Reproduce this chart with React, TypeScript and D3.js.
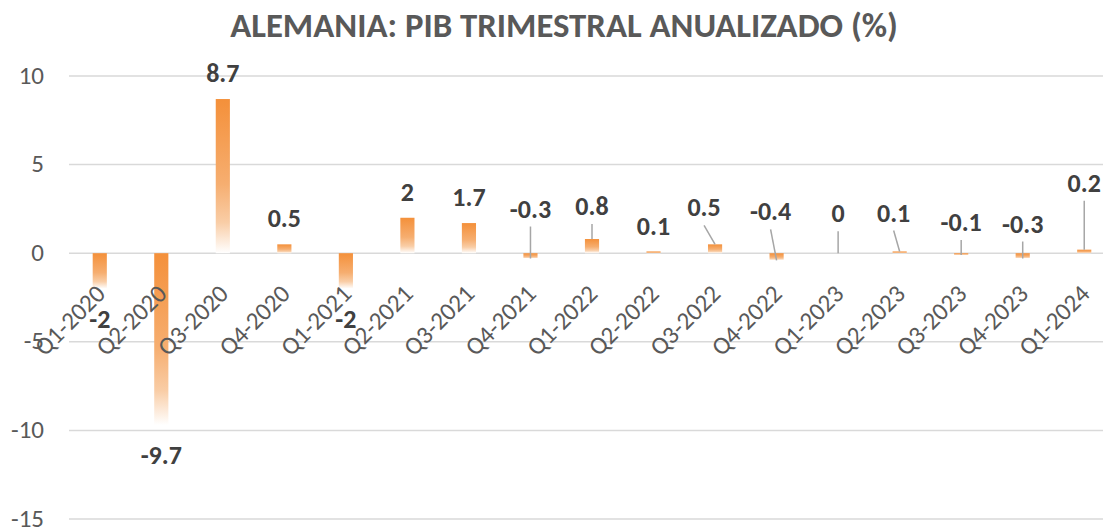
import React from "react";
import * as d3 from "d3";

const categories = [
  "Q1-2020", "Q2-2020", "Q3-2020", "Q4-2020", "Q1-2021", "Q2-2021", "Q3-2021", "Q4-2021",
  "Q1-2022", "Q2-2022", "Q3-2022", "Q4-2022", "Q1-2023", "Q2-2023", "Q3-2023", "Q4-2023", "Q1-2024",
];
const values = [-2, -9.7, 8.7, 0.5, -2, 2, 1.7, -0.3, 0.8, 0.1, 0.5, -0.4, 0, 0.1, -0.1, -0.3, 0.2];
const yTicks = [-15, -10, -5, 0, 5, 10];
const title = "ALEMANIA: PIB TRIMESTRAL ANUALIZADO (%)";

// manual label placements (px): [dx, dy from bar end], null = default outside end
const labelPlacement: ([number, number] | null)[] = [
  null, null, null, null, null, null, null,
  [0, -50], [0, -33], null, [-11, -37], [-6, -49], [0, -40], [-6, -39], [0, -33], [0, -35], [0, -67],
];

const W = 1103;
const H = 529;
const FONT = "Carlito, Calibri, 'Open Sans', sans-serif";

export default function App() {
  const x = d3.scaleBand<string>().domain(categories).range([69, 1115]).paddingInner(0.77).paddingOuter(0.385);
  const y = d3.scaleLinear().domain([-15, 10]).range([519, 76]);
  const bw = x.bandwidth();
  const cx = (c: string) => (x(c) as number) + bw / 2;

  return (
    <svg width={W} height={H} style={{ position: "absolute", left: 0, top: 0, background: "#fff" }}>
      <defs>
        <linearGradient id="barGrad" x1="0" y1="0" x2="0" y2="1">
          <stop offset="0" stopColor="#F4903A" />
          <stop offset="0.55" stopColor="#F6AE70" />
          <stop offset="0.8" stopColor="#F9CDA6" />
          <stop offset="1" stopColor="#FFFFFF" />
        </linearGradient>
      </defs>
      <text x={564} y={37} textAnchor="middle" fontFamily={FONT} fontWeight="bold" fontSize={34.75} fill="#595959">
        {title}
      </text>
      {yTicks.map((t) => (
        <g key={t}>
          <line x1={69} x2={1115} y1={y(t)} y2={y(t)} stroke="#D9D9D9" strokeWidth={1.5} />
          <text x={44} y={y(t)} dy="0.3em" textAnchor="end" fontFamily={FONT} fontSize={25} fill="#595959">
            {t}
          </text>
        </g>
      ))}
      {categories.map((c, i) => {
        const v = values[i];
        const y0 = y(Math.max(0, v));
        const h = Math.abs(y(v) - y(0));
        return h > 0 ? (
          <rect key={c} x={x(c)} y={y0} width={bw} height={h} fill="url(#barGrad)" />
        ) : null;
      })}
      {categories.map((c) => (
        <text
          key={c}
          transform={`translate(${cx(c) + 7},${y(0) + 42}) rotate(-45)`}
          textAnchor="end"
          fontFamily={FONT}
          fontSize={25}
          fill="#595959"
        >
          {c}
        </text>
      ))}
      {categories.map((c, i) => {
        const v = values[i];
        const p = labelPlacement[i];
        const bx = cx(c);
        const by = y(v);
        const lx = bx + (p ? p[0] : 0);
        const ly = by + (p ? p[1] : v >= 0 ? -26 : 30);
        return (
          <g key={c}>
            {p && p[1] < -30 && (
              <line x1={lx} y1={ly + 18} x2={bx} y2={by} stroke="#A6A6A6" strokeWidth={1.5} />
            )}
            <text x={lx} y={ly} dy="0.35em" textAnchor="middle" fontFamily={FONT} fontWeight="bold" fontSize={26} fill="#404040">
              {v}
            </text>
          </g>
        );
      })}
    </svg>
  );
}
